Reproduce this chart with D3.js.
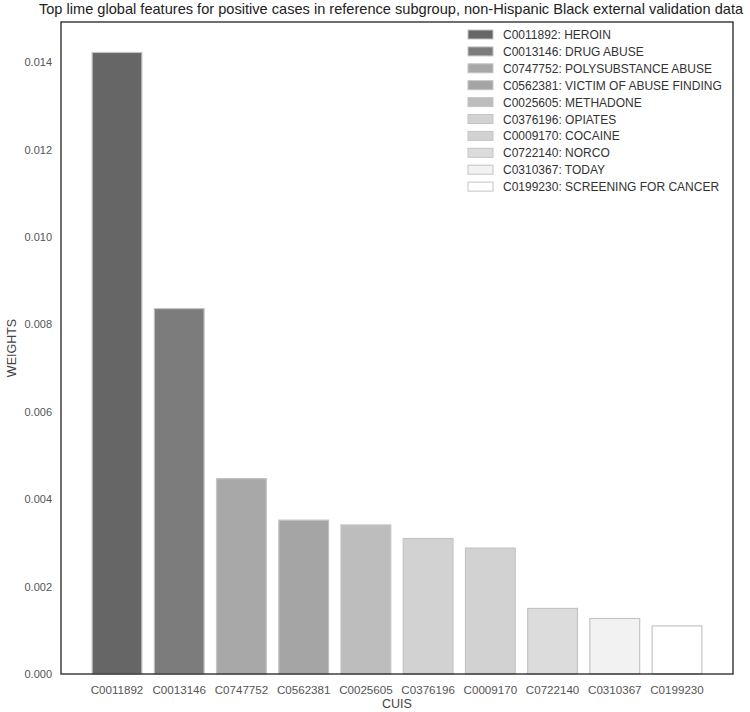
<!DOCTYPE html>
<html>
<head>
<meta charset="utf-8">
<script src="https://cdn.jsdelivr.net/npm/d3@7"></script>
<style>
  body { margin: 0; background: #fff; }
  text { font-family: "Liberation Sans", Arial, sans-serif; }
</style>
</head>
<body>
<svg id="chart" width="750" height="712"></svg>
<script>
var cuis = ["C0011892", "C0013146", "C0747752", "C0562381", "C0025605",
            "C0376196", "C0009170", "C0722140", "C0310367", "C0199230"];
var names = ["HEROIN", "DRUG ABUSE", "POLYSUBSTANCE ABUSE", "VICTIM OF ABUSE FINDING",
             "METHADONE", "OPIATES", "COCAINE", "NORCO", "TODAY", "SCREENING FOR CANCER"];
var weights = [0.01422, 0.00836, 0.00447, 0.00352, 0.00341,
               0.00310, 0.00288, 0.00150, 0.00127, 0.00110];
var barColors = ["#666666", "#7c7c7c", "#a8a8a8", "#a5a5a5", "#bdbdbd",
                 "#d2d2d2", "#d2d2d2", "#dcdcdc", "#f2f2f2", "#ffffff"];
var yTicks = [0, 0.002, 0.004, 0.006, 0.008, 0.010, 0.012, 0.014];

function drawChart() {
    let svg = d3.select("#chart"),
        margin = { top: 22, right: 17, bottom: 38, left: 61 },
        width = +svg.attr("width") - margin.left - margin.right,
        height = +svg.attr("height") - margin.top - margin.bottom;

    let x = d3.scaleBand()
        .domain(cuis)
        .range([0, width])
        .paddingInner(0.2)
        .paddingOuter(0.5);

    let y = d3.scaleLinear()
        .domain([0, d3.max(weights) * 1.049])
        .range([height, 0]);

    let g = svg.append("g")
        .attr("transform", "translate(" + margin.left + "," + margin.top + ")");

    // bars
    g.selectAll("rect.bar")
        .data(cuis)
        .enter().append("rect")
        .attr("class", "bar")
        .attr("x", d => x(d))
        .attr("width", x.bandwidth())
        .attr("y", (d, i) => y(weights[i]))
        .attr("height", (d, i) => height - y(weights[i]))
        .style("fill", (d, i) => barColors[i])
        .style("stroke", "#c4c4c4")
        .style("stroke-width", "1.2px");

    // frame
    g.append("rect")
        .attr("width", width)
        .attr("height", height)
        .style("fill", "none")
        .style("stroke", "#222")
        .style("stroke-width", "1.3px");

    let xAxis = d3.axisBottom(x).tickSize(0).tickPadding(12);
    let yAxis = d3.axisLeft(y).tickValues(yTicks).tickSize(0).tickPadding(9)
        .tickFormat(d3.format(".3f"));

    let xg = g.append("g")
        .attr("transform", "translate(0," + height + ")")
        .call(xAxis);
    let yg = g.append("g").call(yAxis);

    xg.select(".domain").remove();
    yg.select(".domain").remove();
    xg.selectAll("text")
        .style("font-size", "11.6px")
        .style("fill", "#555");
    yg.selectAll("text")
        .style("font-size", "11px")
        .style("fill", "#555");

    // axis labels
    svg.append("text")
        .attr("x", margin.left + width / 2)
        .attr("y", 708)
        .attr("text-anchor", "middle")
        .style("font-size", "12.5px")
        .style("fill", "#444")
        .text("CUIS");

    svg.append("text")
        .attr("transform", "translate(16," + (margin.top + height / 2) + ") rotate(-90)")
        .attr("text-anchor", "middle")
        .style("font-size", "12.5px")
        .style("fill", "#444")
        .text("WEIGHTS");

    // title
    svg.append("text")
        .attr("x", 391)
        .attr("y", 14)
        .attr("text-anchor", "middle")
        .style("font-size", "14.6px")
        .style("fill", "#222")
        .text("Top lime global features for positive cases in reference subgroup, non-Hispanic Black external validation data");

    // legend
    let legend = svg.append("g")
        .attr("transform", "translate(468,30)");

    let items = legend.selectAll("g")
        .data(cuis)
        .enter().append("g")
        .attr("transform", (d, i) => "translate(0," + i * 16.9 + ")");

    items.append("rect")
        .attr("width", 25)
        .attr("height", 9)
        .style("fill", (d, i) => barColors[i])
        .style("stroke", "#c4c4c4")
        .style("stroke-width", "1px");

    items.append("text")
        .attr("x", 35)
        .attr("y", 9)
        .style("font-size", "12px")
        .style("fill", "#333")
        .text((d, i) => d + ": " + names[i]);
}

drawChart();
</script>
</body>
</html>
